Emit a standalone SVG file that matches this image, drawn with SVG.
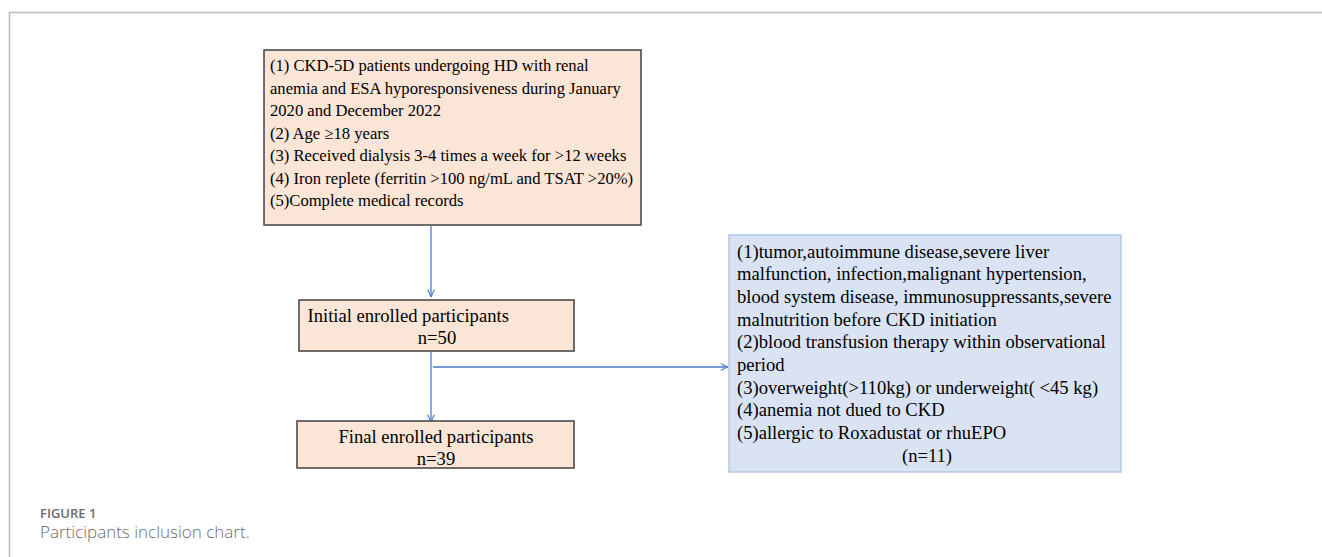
<svg xmlns="http://www.w3.org/2000/svg" width="1322" height="557" viewBox="0 0 1322 557">
<style>
.frame{stroke:#bcbcbc;stroke-width:1.5;fill:none}
.peach{fill:#fbe5d6;stroke:#404040;stroke-width:1.5}
.blue{fill:#dae3f3;stroke:#b4c7e7;stroke-width:1.5}
.t{font-family:"Liberation Serif",serif;font-size:16.6px;fill:#000}
.tb{font-family:"Liberation Serif",serif;font-size:18.6px;fill:#000}
.conn{stroke:#4a7bd0;stroke-width:1.3;fill:none}
.cap1{font-family:"Open Sans",sans-serif;font-size:13px;font-weight:600;fill:#6b6b6b}
.cap2{font-family:"Open Sans",sans-serif;font-size:17px;font-weight:300;fill:#6b6b6b}
</style>
<defs>
<marker id="arr" viewBox="0 0 10 10" refX="10" refY="5" markerWidth="8" markerHeight="8" markerUnits="userSpaceOnUse" orient="auto">
<path d="M1,1 L10,5 L1,9" fill="none" stroke="#4a7bd0" stroke-width="1.4"/>
</marker>
</defs>
<g id="frame">
<path class="frame" d="M9.5,557 V12.5 H1322"/>
</g>
<g id="connectors">
<path class="conn" d="M431,226 V297" marker-end="url(#arr)"/>
<path class="conn" d="M431,352 V422" marker-end="url(#arr)"/>
<path class="conn" d="M433,367 H728" marker-end="url(#arr)"/>
</g>
<g id="node-criteria">
<rect class="peach" x="264" y="50" width="377" height="175"/>
<text class="t" x="270" y="71">(1) CKD-5D patients undergoing HD with renal</text>
<text class="t" x="270" y="93.5">anemia and ESA hyporesponsiveness during January</text>
<text class="t" x="270" y="116">2020 and December 2022</text>
<text class="t" x="270" y="138.5">(2) Age ≥18 years</text>
<text class="t" x="270" y="161">(3) Received dialysis 3-4 times a week for &gt;12 weeks</text>
<text class="t" x="270" y="183.5">(4) Iron replete (ferritin &gt;100 ng/mL and TSAT &gt;20%)</text>
<text class="t" x="270" y="206">(5)Complete medical records</text>
</g>
<g id="node-initial">
<rect class="peach" x="299" y="300" width="275" height="51"/>
<text class="tb" x="307.5" y="322">Initial enrolled participants</text>
<text class="tb" x="437" y="343.5" text-anchor="middle">n=50</text>
</g>
<g id="node-final">
<rect class="peach" x="297" y="421" width="277" height="47"/>
<text class="tb" x="436" y="442.5" text-anchor="middle">Final enrolled participants</text>
<text class="tb" x="436" y="464.5" text-anchor="middle">n=39</text>
</g>
<g id="node-excluded">
<rect class="blue" x="729" y="235" width="392" height="237"/>
<text class="tb" x="737" y="257.5">(1)tumor,autoimmune disease,severe liver</text>
<text class="tb" x="737" y="280.2">malfunction, infection,malignant hypertension,</text>
<text class="tb" x="737" y="302.9">blood system disease, immunosuppressants,severe</text>
<text class="tb" x="737" y="325.6">malnutrition before CKD initiation</text>
<text class="tb" x="737" y="348.3">(2)blood transfusion therapy within observational</text>
<text class="tb" x="737" y="371">period</text>
<text class="tb" x="737" y="393.7">(3)overweight(&gt;110kg) or underweight( &lt;45 kg)</text>
<text class="tb" x="737" y="416.4">(4)anemia not dued to CKD</text>
<text class="tb" x="737" y="439.1">(5)allergic to Roxadustat or rhuEPO</text>
<text class="tb" x="927" y="461.8" text-anchor="middle">(n=11)</text>
</g>
<g id="caption">
<text class="cap1" x="40" y="518">FIGURE 1</text>
<text class="cap2" x="40" y="538">Participants inclusion chart.</text>
</g>
</svg>
